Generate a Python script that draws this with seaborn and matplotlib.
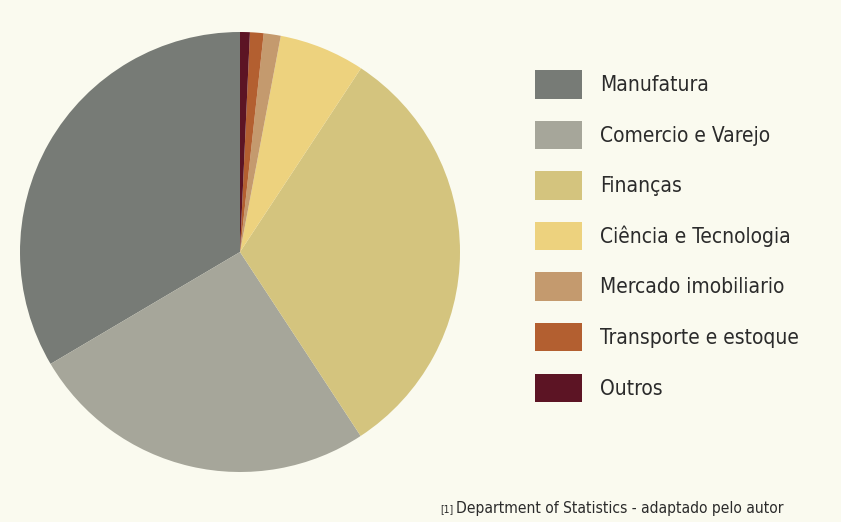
import matplotlib
matplotlib.use("Agg")
import matplotlib.pyplot as plt
import matplotlib.patches as mpatches
import seaborn as sns

categories = ["Manufatura", "Comercio e Varejo", "Finanças", "Ciência e Tecnologia",
              "Mercado imobiliario", "Transporte e estoque", "Outros"]
shares = [33.5, 25.75, 31.5, 6.3, 1.25, 1.0, 0.72]
colors = ["#777B76", "#A6A69A", "#D4C47E", "#EDD27E", "#C49A6E", "#B35F30", "#5C1424"]
footnote = "Department of Statistics - adaptado pelo autor"

BG = "#FAFAEF"
sns.set_style("white")
plt.rcParams["font.family"] = ["DejaVu Sans"]
plt.rcParams["font.stretch"] = "condensed"

palette = sns.color_palette(colors)

W, H = 841, 522
fig = plt.figure(figsize=(W / 100, H / 100), dpi=100, facecolor=BG)
ax = fig.add_axes([20 / W, (H - 472) / H, 440 / W, 440 / H])
ax.set_facecolor(BG)
wedges, _ = ax.pie(shares, colors=palette, startangle=90, counterclock=True,
                   radius=1, wedgeprops=dict(linewidth=0))
ax.set_xlim(-1, 1)
ax.set_ylim(-1, 1)
ax.set_aspect("equal")
ax.axis("off")

fs = 15
fpx = fs * 100 / 72
handles = [mpatches.Patch(facecolor=c, edgecolor="none") for c in palette]
leg = fig.legend(handles, categories, loc="upper left",
                 bbox_to_anchor=(535 / W, 1 - 70 / H), frameon=False,
                 borderpad=0, borderaxespad=0, fontsize=fs,
                 handlelength=47 / fpx, handleheight=36 / fpx,
                 handletextpad=18 / fpx, labelspacing=1.06)
for t in leg.get_texts():
    t.set_color("#2B2B2B")

fig.text(440 / W, 1 - 509 / H, "[1]", fontsize=7.5, color="#2B2B2B", va="center")
fig.text(456 / W, 1 - 508 / H, footnote, fontsize=11.2, color="#2B2B2B", va="center")

fig.savefig("out.png", dpi=100, facecolor=BG)
